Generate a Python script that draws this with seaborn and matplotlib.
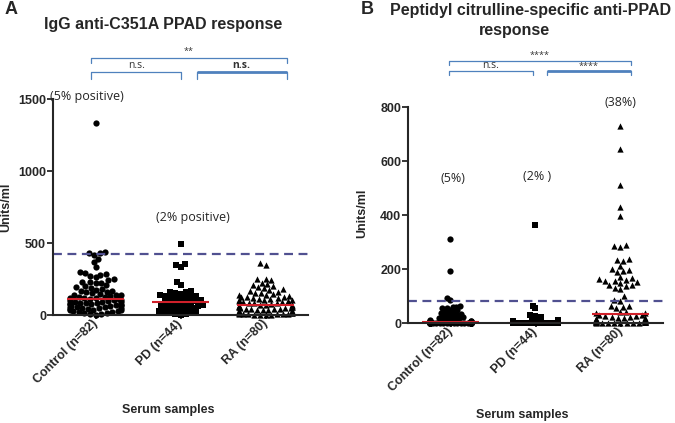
import numpy as np
import pandas as pd
import matplotlib
matplotlib.use("Agg")
import matplotlib.pyplot as plt
import matplotlib.transforms as mtransforms
import seaborn as sns
from seaborn.categorical import Beeswarm

# ---- data ----
groups = ["Control (n=82)", "PD (n=44)", "RA (n=80)"]

a_control = [1330, 440, 432, 428, 420, 392, 368, 332, 298, 292, 288, 280, 272, 262,
             248, 240, 228, 222, 220, 226,
             205, 198, 192, 188, 181, 176, 170, 168, 160, 157, 150, 146, 142, 140,
             136, 131, 128, 125, 121, 118, 116,
             113, 110, 109, 104, 101, 99, 96, 93, 90, 88, 86, 83, 80, 79, 76, 73,
             71, 68, 66, 63, 61, 58, 56, 54, 51, 49, 46, 44, 41, 38, 35, 33, 30,
             27, 24, 21, 17, 14, 10, 6, 3]
a_pd = [490, 352, 346, 330, 232, 206, 168, 162, 158, 152, 148, 140, 135, 130, 126,
        122, 118, 112, 108, 104, 98, 92, 86, 84, 80, 76, 72, 68, 64, 60, 56, 52,
        48, 44, 40, 36, 30, 26, 22, 18, 14, 10, 6, 2]
a_ra = [362, 345, 252, 248, 240, 222, 215, 208, 200, 192, 185, 178, 172, 165, 160,
        156, 150, 145, 140, 136,
        132, 128, 125, 122, 119, 116, 113, 110, 107, 104, 101, 98, 95, 92, 89, 86,
        83, 80, 76, 72,
        69, 67, 65, 63, 61, 59, 57, 55, 53, 51, 49, 47, 45, 43, 41, 39, 37, 35,
        33, 31, 29, 27, 25, 23, 21, 19, 17, 15, 13, 11, 9, 8, 7, 6, 5, 4, 3, 2, 1, 0]

b_control = [310, 192, 92, 86, 62, 58, 54, 48, 44, 46, 50, 56, 60,
             40, 38, 36, 34, 32, 30, 28, 26, 24, 22, 20, 18, 17, 15, 14, 12, 11,
             10, 9, 8, 7, 6, 5, 4, 4, 3, 3,
             2, 2, 2, 2, 2, 2, 2, 2, 2, 2, 1, 1, 1, 1, 1, 1, 1, 1, 1, 1, 1, 1,
             0, 0, 0, 0, 0, 0, 0, 0, 0, 0, 0, 0, 0, 0, 0, 0, 0, 0, 0, 0]
b_pd = [362, 62, 55, 28, 25, 22, 18, 15, 12, 10, 8, 6, 5, 4, 3, 3, 2, 2, 1, 1, 1,
        0, 0, 0, 0, 0, 0, 0, 0, 0, 0, 0, 0, 0, 0, 0, 0, 0, 0, 0, 0, 0, 0, 0]
b_ra = [730, 645, 510, 430, 398, 290, 282, 286, 236, 230, 212, 232, 200, 196, 190,
        194, 162, 156, 166, 172, 160, 150, 142, 136, 130, 125, 140, 152, 156, 100,
        86, 82, 62, 60, 56, 64, 38, 42, 36, 40,
        30, 28, 27, 25, 24, 22, 20, 19, 18, 16, 15, 14, 13, 12, 11, 10, 10, 9, 8,
        8, 7, 6, 6, 5, 5, 4, 4, 3, 3, 2, 2, 2, 1, 1, 1, 0, 0, 0, 0, 0]

a_cutoff = 425
b_cutoff = 81
a_yticks = [0, 500, 1000, 1500]
b_yticks = [0, 200, 400, 600, 800]

markers = ["o", "s", "^"]
RED = "#d0202a"
DASH = "#505090"
BLUE = "#4f81bd"
MARKER_SIZE = 4.5            # marker size drawn
a_layout = [3.9, 3.7, 3.9]   # marker size used only to lay out the swarm
b_layout = [2.4, 2.4, 4.2]
a_width = [0.60, 0.56, 0.62]  # swarm width per group
b_width = [0.48, 0.52, 0.58]

sns.set_style("ticks")
plt.rcParams["font.family"] = ["Liberation Sans", "DejaVu Sans"]

W, H = 675, 423
fig = plt.figure(figsize=(W / 100, H / 100), dpi=100)
axA = fig.add_axes([53 / W, 1 - 315 / H, 255 / W, 216 / H])
axB = fig.add_axes([408 / W, 1 - 323 / H, 255 / W, 216 / H])


def graphpad_swarm(pts, center, width, layout_size):
    # seaborn's beeswarm, but with a narrower band and tighter packing so the
    # markers overlap like a GraphPad scatter
    swarm = Beeswarm(orient="x", width=width, warn_thresh=1)

    def draw(renderer):
        pts.set_sizes([layout_size ** 2])
        swarm(pts, center)
        pts.set_sizes([MARKER_SIZE ** 2])
        type(pts).draw(pts, renderer)

    pts.draw = draw


def draw_panel(ax, data, cutoff, yticks, layout, width):
    ax.set_xlim(-0.5, 2.5)
    ax.set_ylim(0, yticks[-1])
    for i, vals in enumerate(data):
        df = pd.DataFrame({"group": groups[i], "value": vals})
        n0 = len(ax.collections)
        sns.swarmplot(data=df, x="group", y="value", order=groups, marker=markers[i],
                      color="black", size=MARKER_SIZE, linewidth=0,
                      clip_on=False, warn_thresh=1, ax=ax, zorder=3)
        for pts in ax.collections[n0:]:
            if len(pts.get_offsets()) > 1:
                graphpad_swarm(pts, i, width[i], layout[i])
        med = np.median(vals)
        ax.hlines(med, i - 0.33, i + 0.33, color=RED, lw=1.5, zorder=4)
    ax.axhline(cutoff, color=DASH, lw=1.6, ls=(0, (4, 2.5)), zorder=5)
    ax.set_xlim(-0.5, 2.5)
    ax.set_ylim(0, yticks[-1])
    ax.set_yticks(yticks)
    sns.despine(ax=ax)
    for s in ["left", "bottom"]:
        ax.spines[s].set_linewidth(1.5)
        ax.spines[s].set_zorder(6)
    ax.tick_params(axis="y", length=4, width=1.3, labelsize=9, pad=1)
    ax.tick_params(axis="x", length=3, width=1.3, labelsize=9, pad=2)
    for lab in ax.get_yticklabels():
        lab.set_fontweight("bold")
    ax.set_xticks(range(3))
    ax.set_xticklabels(groups, rotation=45, ha="right", va="center",
                       rotation_mode="anchor", fontweight="bold")
    ax.set_ylabel("Units/ml", fontsize=9, fontweight="bold")
    ax.set_xlabel("Serum samples", fontsize=9, fontweight="bold")


def bracket(ax, x0, x1, y, drop, text, ty, lw=0.9, bold=False, fs=7.5):
    tr = mtransforms.blended_transform_factory(ax.transData, ax.transAxes)
    ax.plot([x0, x1], [y, y], color=BLUE, lw=lw, transform=tr, clip_on=False,
            solid_capstyle="butt")
    for x in (x0, x1):
        ax.plot([x, x], [y, y - drop], color=BLUE, lw=0.9, transform=tr, clip_on=False)
    ax.text((x0 + x1) / 2, ty, text, transform=tr, ha="center", va="center",
            fontsize=fs, fontweight="bold" if bold else "normal",
            family=["Open Sans", "DejaVu Sans"], color="#333333")


draw_panel(axA, [a_control, a_pd, a_ra], a_cutoff, a_yticks, a_layout, a_width)
draw_panel(axB, [b_control, b_pd, b_ra], b_cutoff, b_yticks, b_layout, b_width)

axA.yaxis.set_label_coords(-0.16, 0.5)
axB.yaxis.set_label_coords(-0.157, 0.51)
axA.xaxis.set_label_coords(0.45, -0.41)
axB.xaxis.set_label_coords(0.45, -0.40)

# significance brackets
bracket(axA, -0.05, 2.25, 1.19, 0.023, "**", 1.218, fs=6.5)
bracket(axA, -0.05, 1.01, 1.125, 0.032, "n.s.", 1.153)
bracket(axA, 1.19, 2.25, 1.125, 0.032, "n.s.", 1.153, lw=2.0, bold=True)
bracket(axB, -0.02, 2.12, 1.213, 0.019, "****", 1.24, fs=6.5)
bracket(axB, -0.02, 0.97, 1.167, 0.019, "n.s.", 1.19)
bracket(axB, 1.13, 2.12, 1.167, 0.019, "****", 1.19, lw=2.0, fs=6.5)

# percentage annotations
note_font = ["Open Sans", "DejaVu Sans"]
axA.text(-0.1, 1514, "(5% positive)", ha="center", va="center", fontsize=9,
         family=note_font, clip_on=False)
axA.text(1.14, 680, "(2% positive)", ha="center", va="center", fontsize=9,
         family=note_font)
axB.text(0.03, 537, "(5%)", ha="center", va="center", fontsize=9, family=note_font)
axB.text(1.02, 544, "(2% )", ha="center", va="center", fontsize=9, family=note_font)
axB.text(2.0, 818, "(38%)", ha="center", va="center", fontsize=9, family=note_font,
         clip_on=False)

# titles and panel letters
fig.text(11 / W, 1 - 10 / H, "A", fontsize=13, fontweight="bold", ha="center", va="center")
fig.text(367 / W, 1 - 10 / H, "B", fontsize=13, fontweight="bold", ha="center", va="center")
fig.text(163 / W, 1 - 25 / H, "IgG anti-C351A PPAD response", fontsize=11.5,
         fontweight="bold", ha="center", va="center")
fig.text(531 / W, 1 - 10 / H, "Peptidyl citrulline-specific anti-PPAD", fontsize=11.5,
         fontweight="bold", ha="center", va="center")
fig.text(514 / W, 1 - 31 / H, "response", fontsize=11.5,
         fontweight="bold", ha="center", va="center")

fig.savefig("out.png", dpi=100)
